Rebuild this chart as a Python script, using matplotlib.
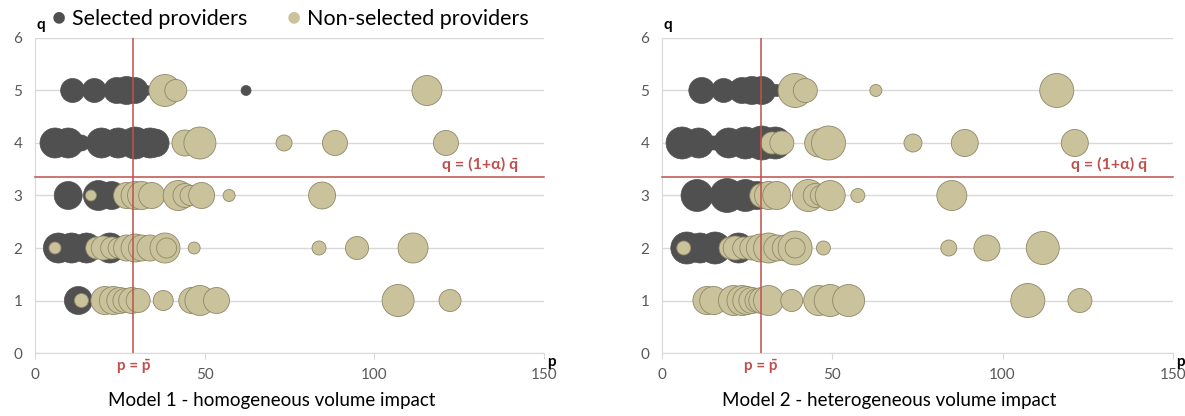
"""
bubble charts of provider volume vs. price / quality
for the two volume-impact models
"""
import numpy as np
import matplotlib.pyplot as plt

# ---- Model 1 (homogeneous volume impact) ----
m1_sel_p = [11.1, 17.5, 24.1, 27.0, 29.5, 32.9, 62.2,
            5.9, 9.8, 13.7, 19.6, 24.5, 29.5, 33.9, 35.4,
            9.8, 18.7, 22.6,
            6.9, 10.8, 15.2, 22.1,
            12.8]
m1_sel_q = [5, 5, 5, 5, 5, 5, 5,
            4, 4, 4, 4, 4, 4, 4, 4,
            3, 3, 3,
            2, 2, 2, 2,
            1]
m1_sel_v = [12, 12, 13, 14, 13, 5, 5,
            15, 15, 8, 15, 15, 16, 15, 14,
            14, 15, 14,
            15, 15, 15, 15,
            14]
m1_non_p = [38.3, 41.5, 115.5,
            44.2, 48.6, 73.4, 88.4, 121.1,
            16.5, 27.0, 29.5, 31.4, 34.4, 42.2, 44.2, 45.7, 49.1, 57.2, 84.6,
            5.9, 18.2, 20.1, 22.6, 24.5, 27.0, 29.5, 31.4, 33.9, 38.3, 38.8,
            46.9, 83.7, 94.9, 111.4,
            13.7, 20.6, 23.1, 25.0, 26.5, 28.5, 30.4, 37.8, 46.2, 48.6, 53.5,
            107.0, 122.3]
m1_non_q = [5, 5, 5,
            4, 4, 4, 4, 4,
            3, 3, 3, 3, 3, 3, 3, 3, 3, 3, 3,
            2, 2, 2, 2, 2, 2, 2, 2, 2, 2, 2,
            2, 2, 2, 2,
            1, 1, 1, 1, 1, 1, 1, 1, 1, 1, 1,
            1, 1]
m1_non_v = [16, 11, 15,
            13, 16, 8, 12.5, 12.5,
            5.5, 13, 14, 14, 13, 15, 12, 10, 13, 6, 13.5,
            6, 11, 12, 11, 10, 13, 14, 13, 13, 15, 10,
            6, 7, 11.5, 15,
            7, 14, 14, 13, 12, 13, 12, 10, 13, 15, 13,
            16, 11]

# ---- Model 2 (heterogeneous volume impact) ----
m2_sel_p = [11.7, 18.1, 23.5, 26.4, 29.3, 33.7,
            5.9, 10.8, 15.2, 19.6, 24.5, 29.3, 33.3,
            10.3, 19.1, 24.5, 27.9,
            7.3, 11.2, 15.6, 22.5]
m2_sel_q = [5, 5, 5, 5, 5, 5,
            4, 4, 4, 4, 4, 4, 4,
            3, 3, 3, 3,
            2, 2, 2, 2]
m2_sel_v = [13, 12, 13, 14, 14, 6,
            16, 15, 7, 15, 16, 17, 16,
            16, 17, 16, 14,
            16, 15, 16, 15]
m2_non_p = [39.1, 42.1, 62.8, 115.9,
            32.3, 35.2, 46.0, 48.9, 73.7, 88.9, 121.2,
            29.3, 31.3, 33.7, 43.0, 45.0, 46.5, 49.4, 57.5, 85.1,
            6.4, 20.0, 21.5, 24.0, 26.4, 28.9, 31.3, 33.7, 36.2, 39.1, 39.1,
            47.4, 84.2, 95.4, 111.8,
            13.2, 15.2, 21.0, 23.5, 24.9, 26.4, 27.9, 29.3, 31.3, 38.1,
            46.0, 49.4, 54.8, 107.4, 122.7]
m2_non_q = [5, 5, 5, 5,
            4, 4, 4, 4, 4, 4, 4,
            3, 3, 3, 3, 3, 3, 3, 3, 3,
            2, 2, 2, 2, 2, 2, 2, 2, 2, 2, 2,
            2, 2, 2, 2,
            1, 1, 1, 1, 1, 1, 1, 1, 1, 1,
            1, 1, 1, 1, 1]
m2_non_v = [17, 12, 6, 17,
            11, 12, 14, 17, 9, 13.5, 13.5,
            12, 14, 14, 16, 12, 10, 15, 7, 15,
            7, 11, 12, 11, 12, 14, 15, 13, 13, 17, 10,
            7, 8, 13, 16.5,
            14, 14, 15, 15, 14, 13, 12, 13, 15, 11,
            15, 16, 16, 17, 12]

p_bar = 29.0
q_lim = 3.35
titles = ["Model 1 - homogeneous volume impact",
          "Model 2 - heterogeneous volume impact"]

DARK = "#505050"
TAN = "#c9c29b"
TAN_EDGE = "#8e8868"
RED = "#c0504d"
GRID = "#d9d9d9"
TXT = "#595959"

plt.rcParams["font.family"] = ["Lato", "DejaVu Sans"]


def area(v):
    # bubble radius (px at 100 dpi) -> marker area in pt^2
    return (1.44 * np.asarray(v)) ** 2


fig = plt.figure(figsize=(11.85, 4.16), dpi=100)
ax1 = fig.add_axes([0.0295, 0.1514, 0.4296, 0.7573])
ax2 = fig.add_axes([0.5586, 0.1514, 0.4312, 0.7573])

panels = [(ax1, m1_sel_p, m1_sel_q, m1_sel_v, m1_non_p, m1_non_q, m1_non_v),
          (ax2, m2_sel_p, m2_sel_q, m2_sel_v, m2_non_p, m2_non_q, m2_non_v)]
title_x = [0.2295, 0.750]

for i, (ax, sp, sq, sv, npv, nq, nv) in enumerate(panels):
    ax.scatter(sp, sq, s=area(sv), color=DARK, edgecolors=DARK,
               linewidths=0.5, zorder=3)
    ax.scatter(npv, nq, s=area(nv), color=TAN, edgecolors=TAN_EDGE,
               linewidths=0.6, zorder=4)
    ax.set_xlim(0, 150)
    ax.set_ylim(0, 6)
    ax.set_xticks([0, 50, 100, 150])
    ax.set_yticks(range(7))
    ax.grid(axis="y", color=GRID, lw=1, zorder=0)
    for s in ["top", "right"]:
        ax.spines[s].set_visible(False)
    ax.spines["left"].set_color(GRID)
    ax.spines["bottom"].set_color(GRID)
    ax.tick_params(axis="x", colors=GRID, labelcolor=TXT, labelsize=11,
                   length=4, pad=7)
    ax.tick_params(axis="y", length=0, labelcolor=TXT, labelsize=11, pad=9)
    ax.axvline(p_bar, color=RED, lw=1.1, zorder=5)
    ax.axhline(q_lim, color=RED, lw=1.1, zorder=5, clip_on=False)
    ax.text(p_bar, -0.12, "p = p\u0304", color=RED, fontsize=11,
            ha="center", va="top", fontweight="bold")
    ax.text(142.5, q_lim + 0.1, "q = (1+\u03b1) q\u0304", color=RED,
            fontsize=11.5, ha="right", va="bottom", fontweight="bold")
    ax.text(150.8, -0.04, "p", color="black", fontsize=11, fontweight="bold",
            ha="left", va="top")
    ax.text(0.6, 6.12, "q", color="black", fontsize=11, fontweight="bold",
            ha="left", va="bottom")
    fig.text(title_x[i], 0.038, titles[i], fontsize=13.5, color="black",
             ha="center", va="center")

fig.text(0.044, 0.957, "\u25cf", color=DARK, fontsize=17, va="center")
fig.text(0.061, 0.955, "Selected providers", color="black", fontsize=15.5,
         va="center")
fig.text(0.242, 0.957, "\u25cf", color=TAN, fontsize=17, va="center")
fig.text(0.259, 0.955, "Non-selected providers", color="black", fontsize=15.5,
         va="center")

fig.savefig("out.png", dpi=100)
